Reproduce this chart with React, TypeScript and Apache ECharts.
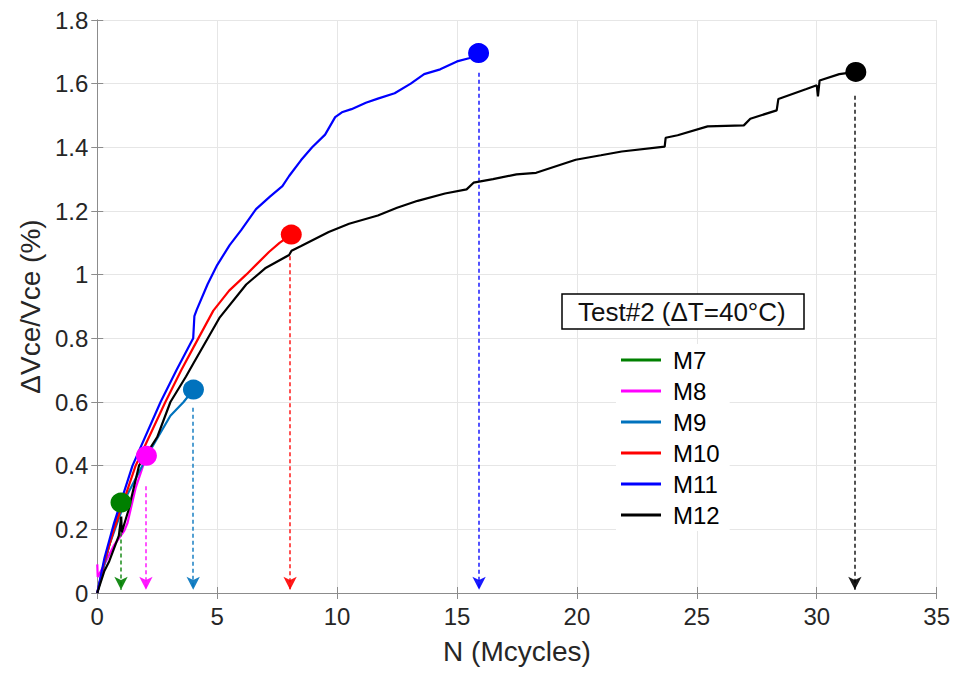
import React, { useEffect, useRef } from "react";
import * as echarts from "echarts";

const FONT = "'Liberation Sans', Arial, Helvetica, sans-serif";

const seriesNames = ["M7", "M8", "M9", "M10", "M11", "M12"];
const seriesColors = ["#008000", "#ff00ff", "#0072bd", "#ff0000", "#0000ff", "#000000"];

const xTicks = [0, 5, 10, 15, 20, 25, 30, 35];
const yTicks = [0, 0.2, 0.4, 0.6, 0.8, 1, 1.2, 1.4, 1.6, 1.8];

const m7X = [0, 0.25, 0.5, 0.75, 0.99];
const m7Y = [0, 0.08, 0.15, 0.22, 0.284];

const m8X = [0, 0.02, 0.3, 0.7, 1.13, 1.26, 1.6, 2.05];
const m8Y = [0.09, 0.05, 0.09, 0.15, 0.196, 0.22, 0.33, 0.431];

const m9X = [0, 0.5, 1.26, 1.88, 2.09, 3.05, 3.6, 4.01];
const m9Y = [0, 0.15, 0.31, 0.4, 0.433, 0.557, 0.6, 0.639];

const m10X = [0, 0.3, 0.7, 1.6, 2.84, 3.5, 4.0, 4.84, 5.5, 6.21, 7.17, 7.6, 8.09];
const m10Y = [0, 0.1, 0.2, 0.4, 0.6, 0.7, 0.77, 0.887, 0.95, 1.0, 1.072, 1.1, 1.126];

const m11X = [0, 0.3, 0.7, 1.47, 2.64, 3.3, 4.0, 4.05, 4.15, 4.6, 5.0, 5.52, 6.0, 6.62, 7.2, 7.72, 8.0, 8.5, 8.96, 9.5, 9.92, 10.2, 10.6, 11.2, 11.7, 12.4, 13.07, 13.63, 14.3, 15.0, 15.5, 15.9];
const m11Y = [0, 0.11, 0.22, 0.4, 0.6, 0.7, 0.8, 0.87, 0.89, 0.97, 1.03, 1.093, 1.14, 1.206, 1.245, 1.278, 1.31, 1.36, 1.4, 1.44, 1.495, 1.51, 1.52, 1.54, 1.553, 1.57, 1.6, 1.63, 1.645, 1.67, 1.68, 1.696];

const m12X = [0, 0.3, 0.5, 0.9, 1.0, 1.02, 1.3, 1.74, 2.5, 3.05, 3.7, 4.0, 5.11, 6.21, 7.0, 8.0, 8.1, 8.5, 9.65, 10.5, 11.7, 12.5, 13.36, 14.5, 15.4, 15.69, 16.5, 17.48, 18.3, 19.95, 21.0, 21.87, 23.66, 23.7, 24.2, 25.45, 26.96, 27.23, 28.33, 28.4, 29.57, 30.0, 30.05, 30.12, 30.94, 31.63];
const m12Y = [0, 0.07, 0.1, 0.18, 0.24, 0.19, 0.26, 0.4, 0.49, 0.6, 0.68, 0.72, 0.866, 0.969, 1.02, 1.062, 1.075, 1.09, 1.134, 1.16, 1.186, 1.21, 1.232, 1.255, 1.268, 1.289, 1.3, 1.315, 1.32, 1.361, 1.375, 1.387, 1.402, 1.43, 1.438, 1.466, 1.469, 1.49, 1.516, 1.552, 1.583, 1.595, 1.56, 1.61, 1.63, 1.637];

const allX = [m7X, m8X, m9X, m10X, m11X, m12X];
const allY = [m7Y, m8Y, m9Y, m10Y, m11Y, m12Y];

// end markers (failure points)
const endX = [0.99, 2.05, 4.01, 8.09, 15.9, 31.63];
const endY = [0.284, 0.431, 0.639, 1.126, 1.696, 1.637];

// dashed drop arrows: x position and start level
const dropX = [0.99, 2.03, 4.0, 8.04, 15.92, 31.59];
const dropStart = [0.19, 0.335, 0.582, 1.058, 1.634, 1.562];
const dropEnd = 0.01;

const legendTitle = "Test#2 (ΔT=40°C)";

export default function App() {
  const ref = useRef<HTMLDivElement>(null);
  useEffect(() => {
    if (!ref.current) return;
    const chart = echarts.init(ref.current, null, { renderer: "svg" });

    const lineSeries = seriesNames.map((name, i) => ({
      name,
      type: "line",
      data: allX[i].map((x, k) => [x, allY[i][k]]),
      symbol: "none",
      showSymbol: false,
      lineStyle: { color: seriesColors[i], width: 2.2 },
      itemStyle: { color: seriesColors[i] },
      z: 2 + i,
      silent: true,
    }));

    const endSeries = seriesNames.map((name, i) => ({
      name: name + " end",
      type: "scatter",
      data: [[endX[i], endY[i]]],
      symbol: "circle",
      symbolSize: [21, 20],
      itemStyle: { color: seriesColors[i], opacity: 1 },
      z: 20,
      silent: true,
      markLine: {
        silent: true,
        symbol: ["none", "arrow"],
        symbolSize: [10, 13],
        label: { show: false },
        lineStyle: { color: seriesColors[i], type: [4, 3], width: 1.5, opacity: 0.9 },
        data: [[{ coord: [dropX[i], dropStart[i]] }, { coord: [dropX[i], dropEnd] }]],
      },
    }));

    const axisColor = "#8c8c8c";
    const textColor = "#262626";

    chart.setOption({
      animation: false,
      backgroundColor: "#ffffff",
      grid: { left: 88, right: 8, top: 10, bottom: 70, containLabel: false },
      xAxis: [
        {
          type: "value",
          min: xTicks[0],
          max: xTicks[xTicks.length - 1],
          interval: 5,
          name: "N (Mcycles)",
          nameLocation: "middle",
          nameGap: 44,
          nameTextStyle: { fontFamily: FONT, fontSize: 28, color: textColor },
          axisLine: { show: true, lineStyle: { color: axisColor, width: 1 } },
          axisTick: { show: true, inside: true, length: 6, lineStyle: { color: axisColor } },
          axisLabel: { fontFamily: FONT, fontSize: 24, color: textColor, margin: 11 },
          splitLine: { show: true, lineStyle: { color: "#e6e6e6", width: 1 } },
        },
        {
          type: "value",
          position: "top",
          min: xTicks[0],
          max: xTicks[xTicks.length - 1],
          interval: 5,
          axisLine: { show: true, lineStyle: { color: axisColor, width: 1 } },
          axisTick: { show: true, inside: true, length: 6, lineStyle: { color: axisColor } },
          axisLabel: { show: false },
          splitLine: { show: false },
        },
      ],
      yAxis: [
        {
          type: "value",
          min: yTicks[0],
          max: yTicks[yTicks.length - 1],
          interval: 0.2,
          name: "ΔVce/Vce (%)",
          nameLocation: "middle",
          nameGap: 50,
          nameTextStyle: { fontFamily: FONT, fontSize: 28, color: textColor },
          axisLine: { show: true, lineStyle: { color: axisColor, width: 1 } },
          axisTick: { show: true, inside: true, length: 6, lineStyle: { color: axisColor } },
          axisLabel: { fontFamily: FONT, fontSize: 24, color: textColor, margin: 9 },
          splitLine: { show: true, lineStyle: { color: "#e6e6e6", width: 1 } },
        },
        {
          type: "value",
          position: "right",
          min: yTicks[0],
          max: yTicks[yTicks.length - 1],
          interval: 0.2,
          axisLine: { show: true, lineStyle: { color: axisColor, width: 1 } },
          axisTick: { show: true, inside: true, length: 6, lineStyle: { color: axisColor } },
          axisLabel: { show: false },
          splitLine: { show: false },
        },
      ],
      legend: {
        data: seriesNames,
        orient: "vertical",
        left: 608,
        top: 336,
        padding: [4, 10, 4, 5],
        icon: "rect",
        itemWidth: 40,
        itemHeight: 3,
        itemGap: 7,
        backgroundColor: "#ffffff",
        selectedMode: false,
        textStyle: { fontFamily: FONT, fontSize: 24, color: "#000000", padding: [0, 0, 0, 7] },
      },
      graphic: [
        {
          type: "rect",
          shape: { x: 554, y: 286, width: 242, height: 35 },
          style: { fill: "#ffffff", stroke: "#000000", lineWidth: 1.5 },
          z: 100,
        },
        {
          type: "text",
          x: 570,
          y: 304,
          style: {
            text: legendTitle,
            fontFamily: FONT,
            fontSize: 26,
            fill: "#111111",
            verticalAlign: "middle",
            align: "left",
          },
          z: 101,
        },
      ],
      series: [...lineSeries, ...endSeries],
    });

    return () => chart.dispose();
  }, []);

  return <div ref={ref} style={{ width: 945, height: 662 }} />;
}
